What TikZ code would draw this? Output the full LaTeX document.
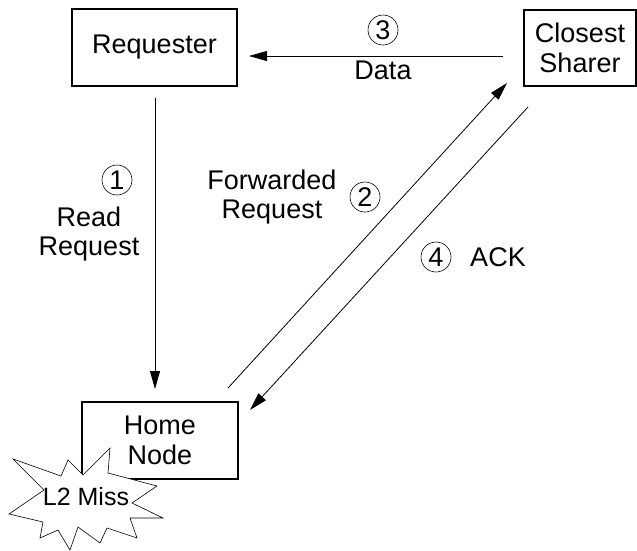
\documentclass[tikz,border=0pt]{standalone}
\usepackage{fontspec}
\setmainfont{Liberation Sans}
\usetikzlibrary{arrows.meta}
\newcommand\lblfont{\fontsize{27}{29.5}\selectfont}
\newcommand\missfont{\fontsize{25}{25}\selectfont}
\begin{document}
\begin{tikzpicture}[x=1pt,y=-1pt,
  box/.style={draw,line width=1.1pt,align=center,inner sep=0pt,font=\lblfont},
  lbl/.style={align=center,inner sep=0pt,font=\lblfont},
  num/.style={draw,circle,line width=0.6pt,minimum size=30pt,inner sep=0pt,font=\lblfont},
  flow/.style={line width=0.8pt,-{Triangle[length=18pt,width=10pt]}}]
\useasboundingbox (0,0) rectangle (637,550);

% agents
\node[box,minimum width=165pt,minimum height=77pt] (req) at (154.5,47.5) {Requester};
\node[box,minimum width=112pt,minimum height=76pt] (cs) at (580,48) {Closest\\Sharer};
\node[box,minimum width=156pt,minimum height=77pt] (home) at (160,440.5) {Home\\Node};

% cache miss burst at the home node
\draw[line width=0.6pt,fill=white] (13,459) -- (61,476) -- (68,460) -- (83,475) -- (110,448)
  -- (108,473) -- (157,486) -- (132,503) -- (163,518) -- (130,518) -- (137,538)
  -- (107,528) -- (100,543) -- (78,527) -- (70,550) -- (58,530) -- (40,538)
  -- (43,522) -- (9,514) -- (44,490) -- cycle;
\node[inner sep=0pt,font=\missfont] (miss) at (86,497) {L2 Miss};

% message end points
\coordinate (rq-out) at (155,98);
\coordinate (hm-in) at (155,389);
\coordinate (cs-data) at (503,56);
\coordinate (rq-in) at (249,56);
\coordinate (hm-fwd) at (228,388);
\coordinate (cs-in) at (507,83);
\coordinate (cs-ack) at (528,107);
\coordinate (hm-ack) at (250,410);

% messages
\draw[flow] (rq-out) -- (hm-in);
\draw[flow] (hm-fwd) -- (cs-in);
\draw[flow] (cs-data) -- (rq-in);
\draw[flow] (cs-ack) -- (hm-ack);

% step numbers and labels
\node[num] (n1) at (117,180) {1};
\node[lbl] (l1) at (89,234) {Read\\Request};
\node[num] (n2) at (365,197) {2};
\node[lbl] (l2) at (272,197) {Forwarded\\Request};
\node[num] (n3) at (383,30) {3};
\node[lbl] (l3) at (383,70) {Data};
\node[num] (n4) at (436,257) {4};
\node[lbl] (l4) at (498,257) {ACK};
\end{tikzpicture}
\end{document}
